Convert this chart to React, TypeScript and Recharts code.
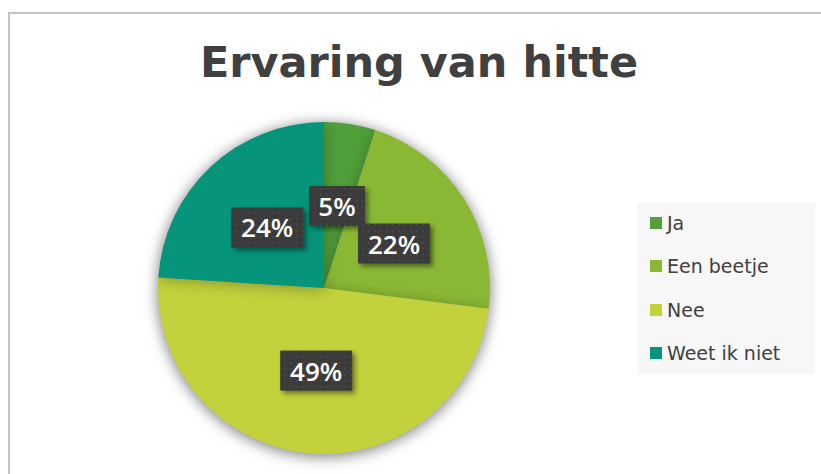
import React from 'react';
import { PieChart, Pie, Cell, Legend } from 'recharts';

const categories = ['Ja', 'Een beetje', 'Nee', 'Weet ik niet'];
const values = [5, 22, 49, 24];
const colors = ['#509f3a', '#8bb834', '#c2d13c', '#06957a'];
const title = 'Ervaring van hitte';

const data = categories.map((name, i) => ({ name, value: values[i] }));

const RAD = Math.PI / 180;

const renderLabel = (props: any) => {
  const { cx, cy, midAngle, outerRadius, index } = props;
  const value = props.value ?? props.payload?.value;
  const r = outerRadius * 0.5;
  const x = cx + r * Math.cos(-midAngle * RAD);
  const y = cy + r * Math.sin(-midAngle * RAD);
  const text = `${value}%`;
  const w = 16 * String(value).length + 40;
  const h = 40;
  return (
    <g key={`lbl-${index}`}>
      <defs>
        <pattern id={`dots${index}`} width="6" height="6" patternUnits="userSpaceOnUse">
          <rect x="2" y="2" width="1.5" height="1.5" fill="#4d4d4d" />
        </pattern>
        <filter id={`blur${index}`} x="-20%" y="-20%" width="140%" height="140%">
          <feGaussianBlur stdDeviation="2.5" />
        </filter>
      </defs>
      <rect x={x - w / 2 + 3} y={y - h / 2 + 3} width={w} height={h} fill="rgba(0,0,0,0.45)" filter={`url(#blur${index})`} />
      <rect x={x - w / 2} y={y - h / 2} width={w} height={h} fill="#3b3b3b" />
      <rect x={x - w / 2} y={y - h / 2} width={w} height={h} fill={`url(#dots${index})`} />
      <text
        x={x}
        y={y}
        textAnchor="middle"
        dominantBaseline="central"
        fill="#ffffff"
        fontFamily="'Open Sans', sans-serif"
        fontWeight={600}
        fontSize={26}
      >
        {text}
      </text>
    </g>
  );
};

const renderLegend = () => {
  return (
    <div
      style={{
        position: 'relative',
        width: 178,
        height: 171,
        background: '#f7f7f7',
        fontFamily: "'DejaVu Sans', sans-serif",
        fontSize: 19,
        color: '#404040',
      }}
    >
      {categories.map((name, i) => (
        <div
          key={`leg-${i}`}
          style={{
            position: 'absolute',
            left: 13,
            top: 10 + i * 43.3,
            height: 20,
            lineHeight: '20px',
            display: 'flex',
            alignItems: 'center',
            whiteSpace: 'nowrap',
          }}
        >
          <span style={{ display: 'inline-block', width: 12, height: 12, background: colors[i], marginRight: 5 }} />
          <span>{name}</span>
        </div>
      ))}
    </div>
  );
};

export default function App() {
  return (
    <div style={{ position: 'absolute', left: 0, top: 0, width: 821, height: 474, overflow: 'hidden', background: '#fff' }}>
      <style>{`.pie-shadow { filter: drop-shadow(0px 2px 7px rgba(0,0,0,0.28)); }`}</style>
      <div
        style={{
          position: 'absolute',
          left: 8,
          top: 12,
          width: 900,
          height: 600,
          borderLeft: '2px solid #c4c4c4',
          borderTop: '2px solid #c4c4c4',
        }}
      />
      <svg style={{ position: 'absolute', left: 0, top: 0 }} width={821} height={110}>
        <text
          x={419}
          y={77}
          textAnchor="middle"
          fontFamily="'DejaVu Sans', sans-serif"
          fontWeight={700}
          fontSize={43}
          fill="#404040"
        >
          {title}
        </text>
      </svg>
      <div style={{ position: 'absolute', left: 0, top: 0 }}>
        <PieChart width={821} height={474} margin={{ top: 0, right: 0, bottom: 0, left: 0 }}>
          <Pie
            className="pie-shadow"
            data={data}
            dataKey="value"
            nameKey="name"
            cx={324}
            cy={288}
            outerRadius={166}
            startAngle={90}
            endAngle={-270}
            stroke="none"
            label={renderLabel}
            labelLine={false}
            isAnimationActive={false}
          >
            {data.map((d, i) => (
              <Cell key={`c-${i}`} fill={colors[i]} stroke="none" />
            ))}
          </Pie>
          <Legend
            layout="vertical"
            content={renderLegend}
            wrapperStyle={{ position: 'absolute', left: 637, top: 203, width: 178, height: 171 }}
          />
        </PieChart>
      </div>
    </div>
  );
}
